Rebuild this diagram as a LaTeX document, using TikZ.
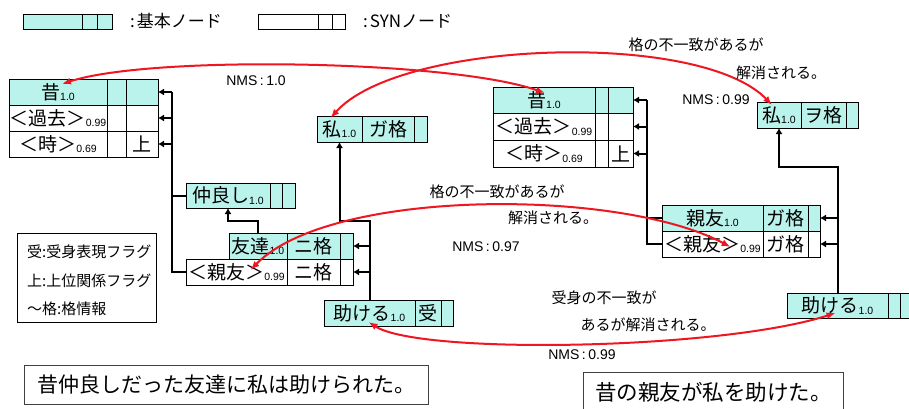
\documentclass[tikz,border=0pt]{standalone}
\usepackage{fontspec}
\setmainfont{Noto Sans CJK JP}
\newfontfamily\lat{Liberation Sans}
\usetikzlibrary{arrows.meta}
\definecolor{cy}{RGB}{186,243,235}
\definecolor{rd}{RGB}{238,22,32}
\newcommand\fs[1]{\fontsize{#1}{#1}\selectfont}
\newcommand\sbs[1]{\raisebox{-1.5pt}{\lat\fontsize{10.5}{10.5}\selectfont #1}}
\newcommand\cel[7]{%
  \pgfmathsetmacro\cw{#4-#2}\pgfmathsetmacro\ch{#5-#3}%
  \node[cell,fill=#6,minimum width=\cw pt,minimum height=\ch pt] (#1) at (#2,#3) {#7};}
\tikzset{
  cell/.style={draw=black,line width=0.9pt,anchor=north west,inner sep=0pt,outer sep=0pt,font={\fs{19}}},
  conn/.style={line width=2pt,draw=black},
  arr/.style={conn,-{Latex[length=6pt,width=7pt]}},
  rarr/.style={draw=rd,line width=2pt,{Latex[length=9pt,width=7pt]}-{Latex[length=9pt,width=7pt]}},
  lab/.style={inner sep=0pt,font={\fs{15}}},
  nms/.style={inner sep=0pt,font={\lat\fs{14}}},
  txt/.style={inner sep=0pt,anchor=west}
}
\begin{document}
\begin{tikzpicture}[x=1pt,y=-1pt]
\useasboundingbox[fill=white] (0,0) rectangle (909,409);
% legend
\cel{LgA1}{23}{14}{82}{29}{cy}{}
\cel{LgA2}{82}{14}{97}{29}{cy}{}
\cel{LgA3}{97}{14}{112}{29}{cy}{}
\node[txt,font={\fs{17}}] (LgAt) at (130,21) {:\hspace{2pt}基本ノード};
\cel{LgB1}{258}{14}{318}{29}{white}{}
\cel{LgB2}{318}{14}{332}{29}{white}{}
\cel{LgB3}{332}{14}{345}{29}{white}{}
\node[txt,font={\fs{17}}] (LgBt) at (363,21) {:\hspace{2pt}SYNノード};
% left tree
\cel{Lmu1a}{9}{79}{107}{105}{cy}{昔\sbs{1.0}}
\cel{Lmu1b}{107}{79}{126}{105}{cy}{}
\cel{Lmu1c}{126}{79}{158}{105}{cy}{}
\cel{Lmu2a}{9}{105}{107}{131}{white}{＜過去＞\sbs{0.99}}
\cel{Lmu2b}{107}{105}{126}{131}{white}{}
\cel{Lmu2c}{126}{105}{158}{131}{white}{}
\cel{Lmu3a}{9}{131}{107}{157}{white}{＜時＞\sbs{0.69}}
\cel{Lmu3b}{107}{131}{126}{157}{white}{}
\cel{Lmu3c}{126}{131}{158}{157}{white}{上}
\cel{Lnaka1}{186}{183}{270}{208}{cy}{仲良し\sbs{1.0}}
\cel{Lnaka2}{270}{183}{282}{208}{cy}{}
\cel{Lnaka3}{282}{183}{295}{208}{cy}{}
\cel{Ltomo1}{229}{233}{287}{259}{cy}{友達\sbs{1.0}}
\cel{Ltomo2}{287}{233}{340}{259}{cy}{ニ格}
\cel{Ltomo3}{340}{233}{353}{259}{cy}{}
\cel{Lshin1}{186}{259}{287}{285}{white}{＜親友＞\sbs{0.99}}
\cel{Lshin2}{287}{259}{340}{285}{white}{ニ格}
\cel{Lshin3}{340}{259}{353}{285}{white}{}
\cel{Lwata1}{317}{116}{362}{142}{cy}{私\sbs{1.0}}
\cel{Lwata2}{362}{116}{414}{142}{cy}{ガ格}
\cel{Lwata3}{414}{116}{427}{142}{cy}{}
\cel{Ltasu1}{324}{300}{415}{326}{cy}{助ける\sbs{1.0}}
\cel{Ltasu2}{415}{300}{441}{326}{cy}{受}
\cel{Ltasu3}{441}{300}{453}{326}{cy}{}
\coordinate (jA) at (172,0);
\coordinate (jB) at (228,221);
\coordinate (jC) at (370,221);
\foreach \r in {Lmu1c,Lmu2c,Lmu3c} \draw[arr] (\r.east -| jA) -- (\r.east);
\draw[conn] (Lmu1c.east -| jA) -- (Lshin1.west -| jA) -- (Lshin1.west);
\draw[conn] (Lnaka1.west -| jA) -- (Lnaka1.west);
\draw[arr] (Ltomo1.north) |- (jB) -- (jB |- Lnaka1.south);
\draw[arr] (Ltasu1.north -| jC) -- (jC) -| (Lwata1.south);
\draw[arr] (Ltomo3.east -| jC) -- (Ltomo3.east);
\draw[arr] (Lshin3.east -| jC) -- (Lshin3.east);
% legend box
\node[draw=black,line width=0.9pt,anchor=north west,minimum width=139pt,minimum height=89pt,inner sep=0pt] (Leg) at (17,233) {};
\node[txt,font={\fs{15}}] (Leg1) at (27,252) {受:受身表現フラグ};
\node[txt,font={\fs{15}}] (Leg2) at (27,281) {上:上位関係フラグ};
\node[txt,font={\fs{15}}] (Leg3) at (27,309) {〜格:格情報};
% right tree
\cel{Rmu1a}{493}{87}{595}{113}{cy}{昔\sbs{1.0}}
\cel{Rmu1b}{595}{87}{608}{113}{cy}{}
\cel{Rmu1c}{608}{87}{633}{113}{cy}{}
\cel{Rmu2a}{493}{113}{595}{140}{white}{＜過去＞\sbs{0.99}}
\cel{Rmu2b}{595}{113}{608}{140}{white}{}
\cel{Rmu2c}{608}{113}{633}{140}{white}{}
\cel{Rmu3a}{493}{140}{595}{167}{white}{＜時＞\sbs{0.69}}
\cel{Rmu3b}{595}{140}{608}{167}{white}{}
\cel{Rmu3c}{608}{140}{633}{167}{white}{上}
\cel{Roya1}{662}{205}{763}{231}{cy}{親友\sbs{1.0}}
\cel{Roya2}{763}{205}{808}{231}{cy}{ガ格}
\cel{Roya3}{808}{205}{820}{231}{cy}{}
\cel{Rshin1}{662}{231}{763}{257}{white}{＜親友＞\sbs{0.99}}
\cel{Rshin2}{763}{231}{808}{257}{white}{ガ格}
\cel{Rshin3}{808}{231}{820}{257}{white}{}
\cel{Rwata1}{757}{102}{801}{128}{cy}{私\sbs{1.0}}
\cel{Rwata2}{801}{102}{846}{128}{cy}{ヲ格}
\cel{Rwata3}{846}{102}{858}{128}{cy}{}
\cel{Rtasu1}{787}{293}{888}{318}{cy}{助ける\sbs{1.0}}
\cel{Rtasu2}{888}{293}{900}{318}{cy}{}
\cel{Rtasu3}{900}{293}{935}{318}{cy}{}
\coordinate (jD) at (647,0);
\coordinate (jE) at (838,167);
\foreach \r in {Rmu1c,Rmu2c,Rmu3c} \draw[arr] (\r.east -| jD) -- (\r.east);
\draw[conn] (Rmu1c.east -| jD) -- (Rshin1.west -| jD) -- (Rshin1.west);
\draw[conn] (Roya1.west -| jD) -- (Roya1.west);
\draw[arr] (Rtasu1.north -| jE) -- (jE) -| (Rwata1.south);
\draw[arr] (Roya3.east -| jE) -- (Roya3.east);
\draw[arr] (Rshin3.east -| jE) -- (Rshin3.east);
% red correspondences
\draw[rarr] ([shift={(4,5)}]Lmu1a.north) .. controls (150,55) and (450,60) .. ([shift={(1,6)}]Rmu1a.north);
\draw[rarr] ([shift={(-9,2)}]Lwata1.north) .. controls (400,40) and (700,30) .. ([shift={(-7,3)}]Rwata1.north);
\draw[rarr] ([shift={(14,-2)}]Lshin1.center) .. controls (330,188) and (620,188) .. ([shift={(18,3)}]Rshin1.center);
\draw[rarr] ([shift={(-1,-4)}]Ltasu1.south) .. controls (420,355) and (720,350) .. ([shift={(-2,-5)}]Rtasu1.south);
% labels
\node[nms] (m1) at (256,81) {NMS\hspace{2.5pt}:\hspace{2.5pt}1.0};
\node[lab] (a1) at (696,45) {格の不一致があるが};
\node[lab] (a2) at (781,73) {解消される。};
\node[nms] (m2) at (716,100) {NMS\hspace{2.5pt}:\hspace{2.5pt}0.99};
\node[lab] (b1) at (497,192) {格の不一致があるが};
\node[lab] (b2) at (553,218) {解消される。};
\node[nms] (m3) at (486,247) {NMS\hspace{2.5pt}:\hspace{2.5pt}0.97};
\node[lab] (c1) at (604,298) {受身の不一致が};
\node[lab] (c2) at (648,325) {あるが解消される。};
\node[nms] (m4) at (582,355) {NMS\hspace{2.5pt}:\hspace{2.5pt}0.99};
% sentences
\node[draw=black!75,line width=0.9pt,anchor=north west,minimum width=404pt,minimum height=39pt,inner sep=0pt,font={\fs{21}}] (s1) at (24,365) {昔仲良しだった友達に私は助けられた。};
\node[draw=black!75,line width=0.9pt,anchor=north west,minimum width=260pt,minimum height=40pt,inner sep=0pt,font={\fs{21.5}}] (s2) at (583,372) {昔の親友が私を助けた。};
\end{tikzpicture}
\end{document}
